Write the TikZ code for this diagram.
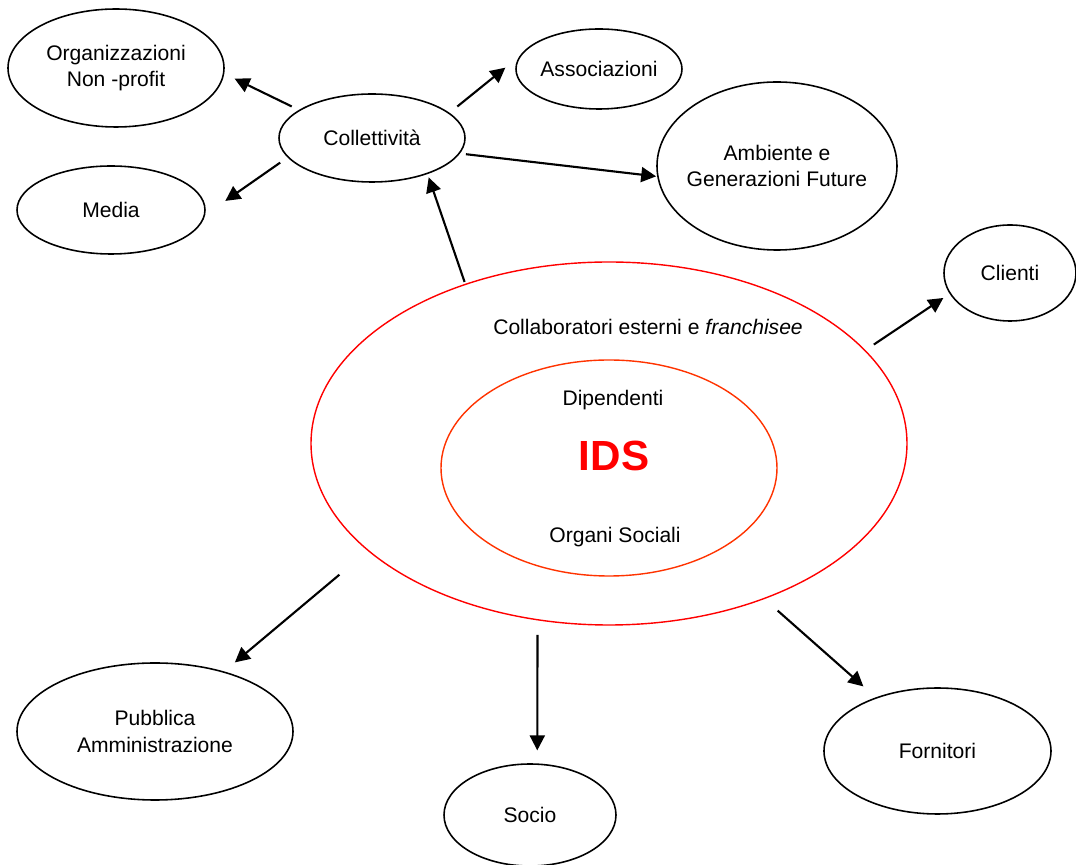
\documentclass[tikz,border=0pt]{standalone}
\usepackage{fontspec}
\setmainfont{Liberation Sans}
\usetikzlibrary{shapes.geometric, arrows.meta, positioning}
\definecolor{idsred}{RGB}{255,0,0}
\definecolor{coreorange}{RGB}{255,51,0}
\tikzset{
    stake/.style = {ellipse, draw=black, line width=0.9pt, inner sep=-3mm, align=center, font=\fontsize{12}{15}\selectfont},
    ring/.style = {ellipse, draw=idsred, line width=0.8pt, inner sep=0pt},
    core/.style = {ellipse, draw=coreorange, line width=0.8pt, inner sep=0pt},
    tag/.style = {inner sep=0pt, font=\fontsize{12}{15}\selectfont},
    arrow/.style = {line width=1.2pt, -{Triangle[length=8.5pt, width=8.5pt]}}
}

\begin{document}
\begin{tikzpicture}[on grid]
\useasboundingbox (0,0) rectangle (21.52,-17.3);

% IDS rings
\node (ids) [ring, minimum width=11.92cm, minimum height=7.26cm] at (12.18,-8.87) {};
\node (core) [core, minimum width=6.72cm, minimum height=4.32cm, below=0.49cm of ids] {};
\node (collab) [tag, above right=2.33cm and 0.78cm of ids] {Collaboratori esterni e \textit{franchisee}};
\node (dip) [tag, above right=1.36cm and 0.08cm of core] {Dipendenti};
\node (name) [tag, above right=0.24cm and 0.1cm of core, font=\fontsize{24}{28}\selectfont\bfseries, text=idsred] {IDS};
\node (organi) [tag, below right=1.38cm and 0.12cm of core] {Organi Sociali};

% Collettivita and its branches
\node (coll) [stake, minimum width=3.72cm, minimum height=1.76cm, above left=6.11cm and 4.74cm of ids] {Collettività};
\node (org) [stake, minimum width=4.32cm, minimum height=2.36cm, above left=1.4cm and 5.12cm of coll] {Organizzazioni\\Non -profit};
\node (media) [stake, minimum width=3.76cm, minimum height=1.76cm, below left=1.44cm and 5.22cm of coll] {Media};
\node (assoc) [stake, minimum width=3.32cm, minimum height=1.6cm, above right=1.38cm and 4.54cm of coll] {Associazioni};
\node (amb) [stake, minimum width=4.8cm, minimum height=3.36cm, below right=0.56cm and 8.1cm of coll] {Ambiente e\\Generazioni Future};

% Other stakeholders
\node (clienti) [stake, minimum width=2.64cm, minimum height=1.92cm, above right=3.41cm and 8.02cm of ids] {Clienti};
\node (pa) [stake, minimum width=5.52cm, minimum height=2.74cm, below left=5.76cm and 9.08cm of ids] {Pubblica\\Amministrazione};
\node (socio) [stake, minimum width=3.44cm, minimum height=2.04cm, below left=7.43cm and 1.58cm of ids] {Socio};
\node (forn) [stake, minimum width=4.54cm, minimum height=2.52cm, below right=6.15cm and 6.57cm of ids] {Fornitori};

% Connections - Collettivita
\draw [arrow, shorten <=0.16cm, shorten >=0.23cm] (coll.159) -- (org.-3);
\draw [arrow, shorten <=0.18cm, shorten >=0.49cm] (coll.193) -- (media.-3);
\draw [arrow, shorten <=0.2cm, shorten >=0.36cm] (coll.18) -- (assoc.171);
\draw [arrow, shorten <=0.12cm, shorten >=0.02cm] (coll.-10) -- (amb.185);

% Connections - IDS
\draw [arrow, shorten <=0.04cm, shorten >=0.07cm] (ids.132) -- (coll.-33);
\draw [arrow, shorten <=0.2cm, shorten >=0.15cm] (ids.20) -- (clienti.199);
\draw [arrow, shorten <=0.74cm, shorten >=0.28cm] (ids.204) -- (pa.41);
\draw [arrow, shorten <=0.29cm, shorten >=0.26cm] (ids.248) -- (socio.82);
\draw [arrow, shorten <=0.35cm, shorten >=0.33cm] (ids.-45) -- (forn.139);

\end{tikzpicture}
\end{document}
